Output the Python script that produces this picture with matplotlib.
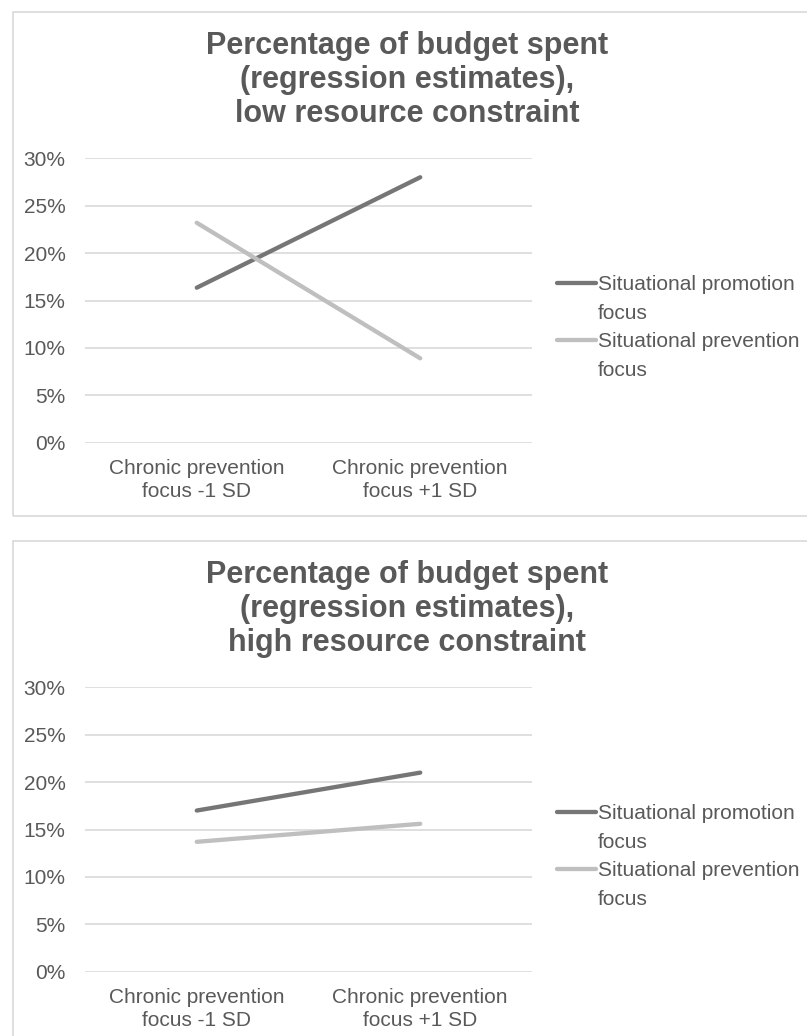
import matplotlib.pyplot as plt
from matplotlib.lines import Line2D
from matplotlib.patches import Rectangle
from matplotlib.ticker import PercentFormatter

categories = ['Chronic prevention\nfocus -1 SD', 'Chronic prevention\nfocus +1 SD']
legend_labels = ['Situational promotion', 'focus', 'Situational prevention', 'focus']
low_promotion = [16.35, 28.0]
low_prevention = [23.2, 8.9]
high_promotion = [17.0, 21.0]
high_prevention = [13.7, 15.6]
y_ticks = [0, 5, 10, 15, 20, 25, 30]
titles = [
    'Percentage of budget spent\n(regression estimates),\nlow resource constraint',
    'Percentage of budget spent\n(regression estimates),\nhigh resource constraint',
]

plt.rcParams['font.family'] = ['Liberation Sans', 'DejaVu Sans']

W, H = 807, 1036
TEXT = '#595959'
GRID = '#d9d9d9'
DARK = '#767676'
LIGHT = '#bfbfbf'

fig = plt.figure(figsize=(W / 100, H / 100), dpi=100)

panels = [
    (low_promotion, low_prevention, titles[0], 0),
    (high_promotion, high_prevention, titles[1], 529),
]

for promo, prev, title, off in panels:
    # light frame around each chart
    top, bottom = 11.7 + off, 516 + off
    fig.patches.append(Rectangle((12.7 / W, 1 - bottom / H), 1.0, (bottom - top) / H,
                                 transform=fig.transFigure, fill=False,
                                 edgecolor=GRID, lw=1.2))

    fig.text(407 / W, 1 - (80 + off) / H, title, ha='center', va='center',
             fontsize=22, fontweight='bold', color=TEXT, linespacing=1.17)

    ax = fig.add_axes([85 / W, 1 - (442.7 + off) / H, 447 / W, 284.4 / H])
    x = range(len(categories))
    h1, = ax.plot(x, promo, color=DARK, lw=3.1, solid_capstyle='round')
    h2, = ax.plot(x, prev, color=LIGHT, lw=3.1, solid_capstyle='round')

    ax.set_xlim(-0.5, 1.5)
    ax.set_ylim(0, 30)
    ax.set_xticks(list(x))
    ax.set_xticklabels(categories, fontsize=15, color=TEXT, linespacing=1.25)
    ax.set_yticks(y_ticks)
    ax.yaxis.set_major_formatter(PercentFormatter(decimals=0))
    ax.tick_params(axis='y', length=0, pad=14, labelsize=15, labelcolor=TEXT)
    ax.tick_params(axis='x', length=0, pad=12)
    ax.grid(axis='y', color=GRID, lw=1.2)
    ax.set_axisbelow(True)
    for s in ax.spines.values():
        s.set_visible(False)

    blank = Line2D([], [], color='none')
    ax.legend([h1, blank, h2, blank], legend_labels,
              loc='center left', bbox_to_anchor=(557 / W, 1 - (327.5 + off) / H),
              bbox_transform=fig.transFigure, frameon=False, fontsize=15,
              labelcolor=TEXT, handlelength=1.85, handletextpad=0.1,
              borderpad=0, borderaxespad=0, labelspacing=0.47)

fig.savefig('out.png', dpi=100)
